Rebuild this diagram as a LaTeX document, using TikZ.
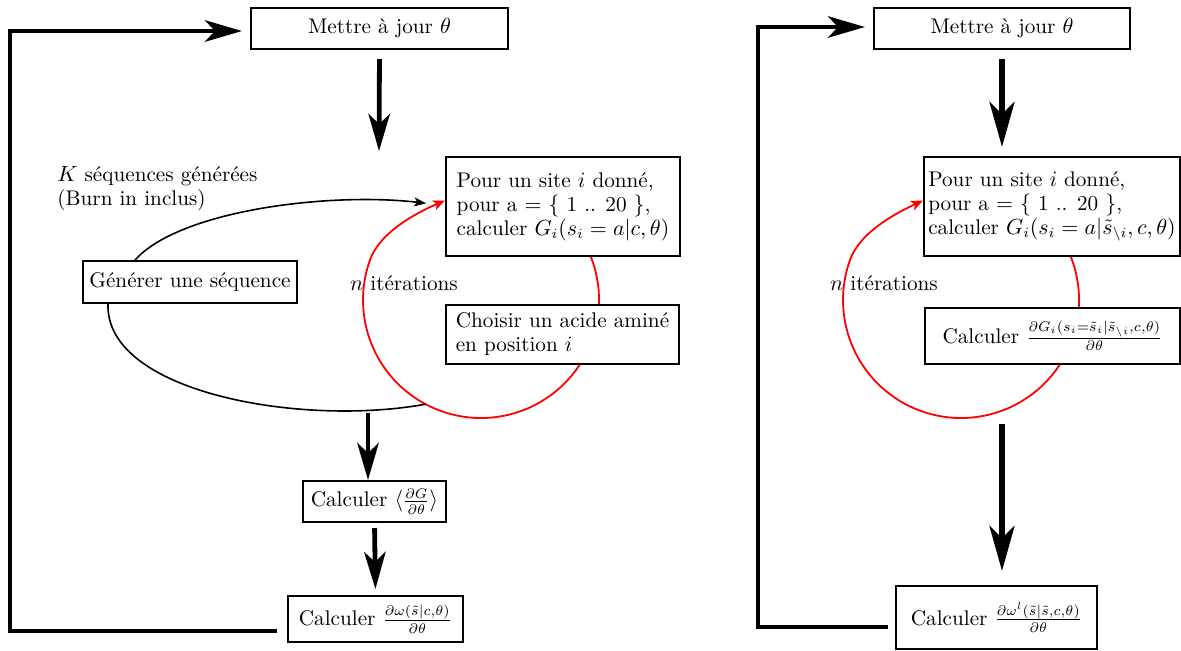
\documentclass[tikz,border=0pt]{standalone}
\usetikzlibrary{arrows.meta,backgrounds}
\begin{document}
\begin{tikzpicture}[x=0.5pt,y=-0.5pt,
  every node/.style={font=\fontsize{10.6}{12}\selectfont},
  box/.style={draw,line width=1pt,fill=white,inner sep=0pt},
  bigarrow/.style={line width=2.4pt,-{Stealth[length=18.5pt,width=10.7pt,inset=5pt]}},
  bigarrowR/.style={line width=2.8pt,-{Stealth[length=22.5pt,width=12.5pt,inset=6pt]}},
  curvearrow/.style={line width=0.8pt,-{Stealth[length=6pt,width=4.5pt,inset=1.5pt]}},
  curveline/.style={line width=0.8pt},
  redarrow/.style={red,line width=0.9pt,-{Stealth[length=6pt,width=5pt,inset=1.5pt]}}
]
\useasboundingbox (0,0) rectangle (1181,650);

% ---------- left diagram ----------
\node[box, minimum width=128.5pt, minimum height=20.5pt] (mettreL) at (379.5,28.5) {Mettre à jour $\theta$};
\node[box, align=left, minimum width=117pt, minimum height=49.5pt] (pourL) at (563,206.5)
  {Pour un site $i$ donné,\\ pour a $=$ $\{$ 1 .. 20 $\}$,\\ calculer $G_i(s_i=a|c,\theta)$};
\node[box, minimum width=107pt, minimum height=21pt] (gen) at (190,282) {Générer une séquence};
\node[box, align=left, minimum width=116.5pt, minimum height=29.5pt] (choisir) at (562.5,334.5)
  {Choisir un acide aminé\\en position $i$};
\node[box, minimum width=71.5pt, minimum height=20.5pt] (calcG) at (374.5,501.5)
  {Calculer $\langle\frac{\partial G}{\partial\theta}\rangle$};
\node[box, minimum width=87.5pt, minimum height=23pt] (calcW) at (375.5,619)
  {Calculer $\frac{\partial\omega(\tilde{s}|c,\theta)}{\partial\theta}$};
\node[anchor=north west, inner sep=0pt, align=left] (klabel) at (57,166)
  {$K$ séquences générées\\(Burn in inclus)};
\node (nL) at (404,283) {$n$ itérations};

\coordinate (cL) at (481,300);
\coordinate (mL) at ([shift={(242:59pt)}]cL);
\coordinate (aL1) at (379,151);
\coordinate (sL2) at (368,413);
\coordinate (fL1) at (277,631);
\coordinate (fL2) at (10,631);

\begin{scope}[on background layer]
  \draw[redarrow] ([shift={(22:59pt)}]cL) arc[start angle=22, end angle=-200, radius=59pt]
     .. controls (380.4,231.4) and (417.7,212.3) .. ([yshift=3pt]pourL.west);
\end{scope}

\draw[curvearrow, shorten >=9.5pt] ([xshift=-27.5pt]gen.north) .. controls (180,210) and (330,192) .. ([yshift=0.5pt]pourL.west);
\draw[curveline] ([xshift=-41pt]gen.south) .. controls (105,392) and (300,427) .. (mL);

\draw[bigarrow, shorten <=4.5pt] (mettreL.south) -- (aL1);
\draw[bigarrow] (sL2) -- (sL2 |- calcG.north);
\draw[bigarrow, shorten <=2.5pt, shorten >=3pt] (calcG.south) -- (calcW.north);
\draw[bigarrow, shorten >=4pt] (fL1) -- (fL2) |- ([yshift=-1.25pt]mettreL.west);

% ---------- right diagram ----------
\node[box, minimum width=128pt, minimum height=20.5pt] (mettreR) at (1002,28.5) {Mettre à jour $\theta$};
\node[box, align=left, minimum width=128pt, minimum height=49.5pt] (pourR) at (1052,206.5)
  {Pour un site $i$ donné,\\ pour a $=$ $\{$ 1 .. 20 $\}$,\\ calculer $G_i(s_i=a|\tilde{s}_{\setminus i},c,\theta)$};
\node[box, minimum width=127.5pt, minimum height=28pt] (calcGR) at (1052.5,336)
  {Calculer $\frac{\partial G_i(s_i=\tilde{s}_i|\tilde{s}_{\setminus i},c,\theta)}{\partial\theta}$};
\node[box, minimum width=100.5pt, minimum height=31.5pt] (calcWR) at (996.5,617.5)
  {Calculer $\frac{\partial\omega^l(\tilde{s}|\tilde{s},c,\theta)}{\partial\theta}$};
\node (nR) at (884,283) {$n$ itérations};

\coordinate (cR) at (961,300);
\coordinate (sR2) at (1002,424);
\coordinate (fR1) at (888,627);
\coordinate (fR2) at (758,627);

\begin{scope}[on background layer]
  \draw[redarrow] ([shift={(22:59pt)}]cR) arc[start angle=22, end angle=-200, radius=59pt]
     .. controls (860.4,231.4) and (897.7,212.3) .. ([yshift=3pt]pourR.west);
\end{scope}

\draw[bigarrowR, shorten <=4.5pt, shorten >=4.5pt] (mettreR.south) -- (mettreR.south |- pourR.north);
\draw[bigarrowR, shorten >=7pt] (sR2) -- (sR2 |- calcWR.north);
\draw[bigarrow, shorten >=4pt] (fR1) -- (fR2) |- ([yshift=0.75pt]mettreR.west);
\end{tikzpicture}
\end{document}
